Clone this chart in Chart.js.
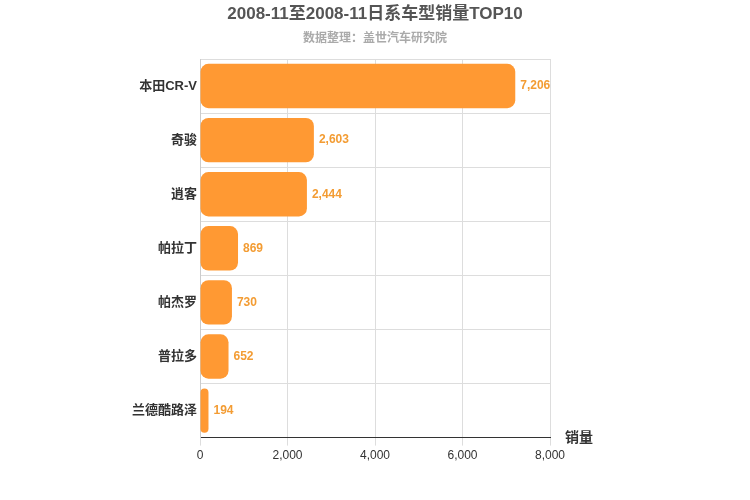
<!DOCTYPE html>
<html><head><meta charset="utf-8">
<script src="https://cdn.jsdelivr.net/npm/chart.js@4"></script>
<style>html,body{margin:0;padding:0;background:#fff}#w{width:750px;height:500px}</style>
</head><body><div id="w"><canvas id="c"></canvas></div>
<script>
const categories = ["本田CR-V","奇骏","逍客","帕拉丁","帕杰罗","普拉多","兰德酷路泽"];
const sales = [7206,2603,2444,869,730,652,194];
const xTicks = [0,2000,4000,6000,8000];
const titleText = "2008-11至2008-11日系车型销量TOP10";
const subtitleText = "数据整理：盖世汽车研究院";
const axisTitle = "销量";
const FONT = "'Liberation Sans', 'Noto Sans CJK SC', sans-serif";
const textPlugin = {
  id:'txt',
  afterDatasetsDraw(chart){
    const ctx = chart.ctx, meta = chart.getDatasetMeta(0);
    ctx.save();
    ctx.fillStyle = '#f39c33'; ctx.font = 'bold 12px ' + FONT;
    ctx.textBaseline = 'middle'; ctx.textAlign = 'left';
    meta.data.forEach((b,i)=>{ ctx.fillText(sales[i].toLocaleString('en-US'), b.x+5, b.y); });
    ctx.fillStyle = '#555'; ctx.textAlign = 'center';
    ctx.font = 'bold 17px ' + FONT; ctx.fillText(titleText, 375, 14);
    ctx.fillStyle = '#aaa'; ctx.font = 'bold 12px ' + FONT; ctx.fillText(subtitleText, 375, 39);
    ctx.fillStyle = '#333'; ctx.font = 'bold 14px ' + FONT; ctx.textAlign='left';
    ctx.fillText(axisTitle, 565, 438);
    ctx.restore();
  }
};
new Chart(document.getElementById('c'), {
  type:'bar',
  data:{labels:categories, datasets:[{data:sales, backgroundColor:'#ff9933', borderRadius:8, borderSkipped:false, categoryPercentage:0.82, barPercentage:1}]},
  options:{
    indexAxis:'y', responsive:true, maintainAspectRatio:false, animation:false,
    layout:{padding:{top:59,right:200,bottom:34,left:0}},
    plugins:{legend:{display:false}, tooltip:{enabled:false}},
    scales:{
      x:{min:0,max:8000, afterBuildTicks(a){a.ticks = xTicks.map(v=>({value:v}));},
         ticks:{color:'#333', font:{size:12,family:FONT}, callback:v=>v.toLocaleString('en-US')},
         grid:{color:'#ddd'}, border:{color:'#333'}},
      y:{afterFit(a){a.width=200;}, ticks:{color:'#333', font:{size:13,weight:'bold',family:FONT}},
         grid:{color:'#ddd', drawTicks:false}, border:{color:'#ccc'}}
    }
  },
  plugins:[textPlugin]
});
</script></body></html>
